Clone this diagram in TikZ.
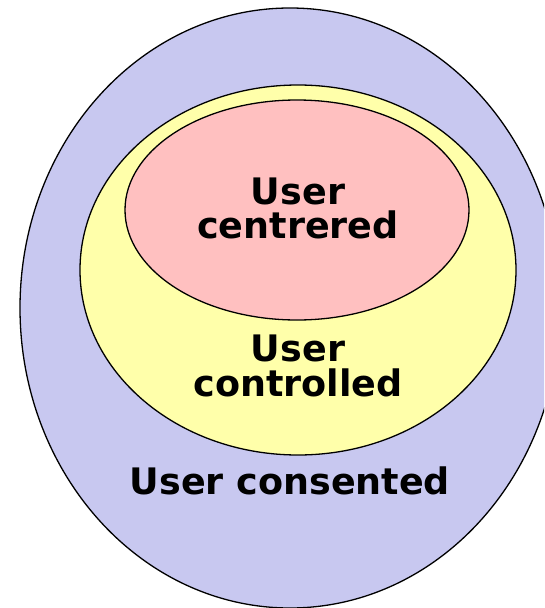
\documentclass[tikz,border=0pt]{standalone}
\usepackage{fontspec}
\setmainfont{DejaVu Sans}
\definecolor{consentblue}{RGB}{200,200,240}
\definecolor{controlyellow}{RGB}{255,255,170}
\definecolor{centrepink}{RGB}{255,192,192}
\begin{document}
\begin{tikzpicture}[x=1pt,y=-1pt,
  ring/.style={draw=black,line width=1.3pt},
  lbl/.style={font=\bfseries\fontsize{36.5}{35}\selectfont,align=center,inner sep=0pt}]
\useasboundingbox (0,0) rectangle (544,608);
\clip (0,0) rectangle (544,608);
\filldraw[ring,fill=consentblue] (290,308) ellipse [x radius=270, y radius=300];
\filldraw[ring,fill=controlyellow] (298,270) ellipse [x radius=218, y radius=185];
\filldraw[ring,fill=centrepink] (297,210) ellipse [x radius=172, y radius=110];
\node[lbl,anchor=base] (centred) at (298,204) {User};
\node[lbl,anchor=base] (centred2) at (298,238) {centrered};
\node[lbl,anchor=base] (controlled) at (298,361) {User};
\node[lbl,anchor=base] (controlled2) at (298,396) {controlled};
\node[lbl,anchor=base] (consented) at (290,494) {User consented};
\end{tikzpicture}
\end{document}
